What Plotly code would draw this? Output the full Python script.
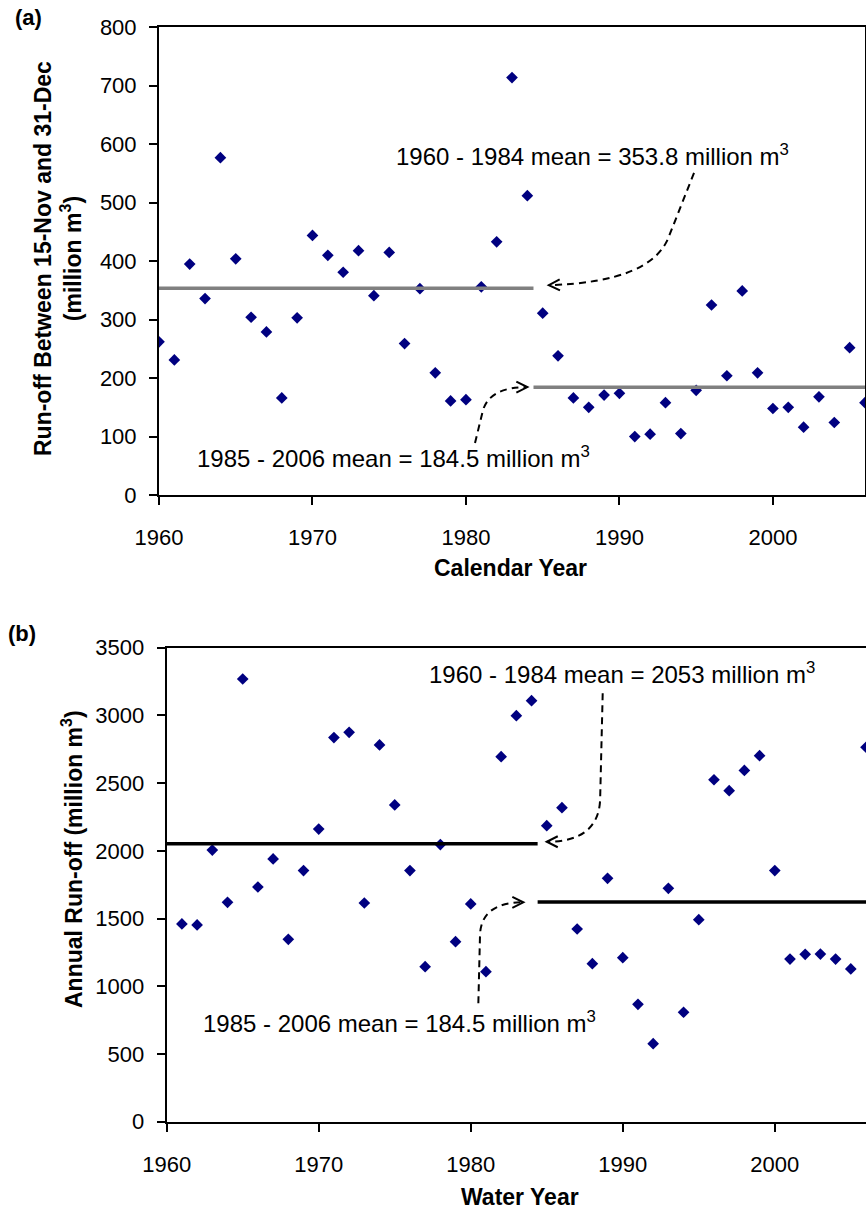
import plotly.graph_objects as go

# ---------------- data ----------------
# (a) run-off between 15-Nov and 31-Dec, by calendar year (million m3)
years_a = list(range(1960, 2007))
runoff_a = [262, 231, 395, 336, 577, 404, 304, 279, 166, 303,
            444, 410, 381, 418, 341, 415, 259, 353, 209, 161,
            163, 356, 433, 714, 512, 311, 238, 166, 150, 171,
            174, 100, 104, 158, 105, 179, 325, 204, 349, 209,
            148, 150, 116, 168, 124, 252, 158]

# (b) annual run-off, by water year (million m3)
years_b = list(range(1961, 2007))
runoff_b = [1460, 1453, 2006, 1620, 3269, 1733, 1940, 1347, 1854, 2161,
            2836, 2875, 1615, 2782, 2339, 1854, 1145, 2046, 1329, 1608,
            1108, 2695, 2998, 3109, 2186, 2319, 1423, 1167, 1797, 1211,
            867, 576, 1723, 808, 1492, 2525, 2444, 2594, 2703, 1854,
            1201, 1236, 1238, 1201, 1128, 2765]

# period means
mean_a_early, mean_a_late = 353.8, 184.5
mean_b_early, mean_b_late = 2053, 1622
split_year = 1984.4

x_ticks = [1960, 1970, 1980, 1990, 2000]

# ---------------- layout geometry ----------------
W, H = 866, 1211
FONT = "Liberation Sans, Arial, sans-serif"

panels = {
    "a": dict(x0=159.0, x1=865.0, ytop=27.3, ybot=495.0, xr=(1960, 2006), yr=(0, 800)),
    "b": dict(x0=166.7, x1=866.0, ytop=647.7, ybot=1121.7, xr=(1960, 2006), yr=(0, 3500)),
}


def to_paper(p, xv, yv):
    g = panels[p]
    px = g["x0"] + (xv - g["xr"][0]) / (g["xr"][1] - g["xr"][0]) * (g["x1"] - g["x0"])
    py = g["ybot"] - (yv - g["yr"][0]) / (g["yr"][1] - g["yr"][0]) * (g["ybot"] - g["ytop"])
    return px, py


def pp(px, py):
    return px / W, 1 - py / H


def dashed_callout(p, start, bend, ctrl, tip):
    """Dashed curved leader ending in an open arrowhead (data coordinates)."""
    pts = [to_paper(p, *q) for q in (start, bend, ctrl, tip)]
    (sx, sy), (bx, by), (cx, cy), (tx, ty) = [pp(*q) for q in pts]
    shapes = [dict(type="path", xref="paper", yref="paper",
                   path=f"M{sx},{sy} L{bx},{by} Q{cx},{cy} {tx},{ty}",
                   line=dict(color="black", width=2, dash="7px,5px"))]
    # arrowhead direction from control point to tip (pixel space)
    (cpx, cpy), (tpx, tpy) = pts[2], pts[3]
    dx, dy = tpx - cpx, tpy - cpy
    n = (dx * dx + dy * dy) ** 0.5
    ux, uy = dx / n, dy / n
    L, Wd = 11, 5.5
    a1 = (tpx - ux * L - uy * Wd, tpy - uy * L + ux * Wd)
    a2 = (tpx - ux * L + uy * Wd, tpy - uy * L - ux * Wd)
    (x1, y1), (x2, y2), (x3, y3) = pp(*a1), pp(tpx, tpy), pp(*a2)
    shapes.append(dict(type="path", xref="paper", yref="paper",
                       path=f"M{x1},{y1} L{x2},{y2} L{x3},{y3}",
                       line=dict(color="black", width=2)))
    return shapes


fig = go.Figure()

marker = dict(symbol="diamond", size=9, color="#000080", line=dict(width=0))

fig.add_trace(go.Scatter(x=years_a, y=runoff_a, mode="markers", marker=marker,
                         xaxis="x", yaxis="y", showlegend=False))
fig.add_trace(go.Scatter(x=years_b, y=runoff_b, mode="markers", marker=marker,
                         xaxis="x2", yaxis="y2", showlegend=False))

# mean lines
fig.add_trace(go.Scatter(x=[1960, split_year], y=[mean_a_early] * 2, mode="lines",
                         line=dict(color="#808080", width=3.5), xaxis="x", yaxis="y",
                         showlegend=False))
fig.add_trace(go.Scatter(x=[split_year, 2006], y=[mean_a_late] * 2, mode="lines",
                         line=dict(color="#808080", width=3.5), xaxis="x", yaxis="y",
                         showlegend=False))
fig.add_trace(go.Scatter(x=[1960, split_year], y=[mean_b_early] * 2, mode="lines",
                         line=dict(color="black", width=3.5), xaxis="x2", yaxis="y2",
                         showlegend=False))
fig.add_trace(go.Scatter(x=[split_year, 2006], y=[mean_b_late] * 2, mode="lines",
                         line=dict(color="black", width=3.5), xaxis="x2", yaxis="y2",
                         showlegend=False))

axis_common = dict(showgrid=False, zeroline=False, showline=True, linecolor="black",
                   linewidth=2, ticks="outside", ticklen=8, tickwidth=2, tickcolor="black",
                   automargin=False,
                   tickfont=dict(family=FONT, size=22, color="black"))

ga, gb = panels["a"], panels["b"]
fig.update_layout(
    width=W, height=H, margin=dict(l=0, r=0, t=0, b=0),
    paper_bgcolor="white", plot_bgcolor="white",
    xaxis=dict(axis_common, domain=[ga["x0"] / W, ga["x1"] / W], range=list(ga["xr"]),
               tickvals=x_ticks, mirror=True, anchor="y", ticklabelstandoff=14),
    yaxis=dict(axis_common, domain=[1 - ga["ybot"] / H, 1 - ga["ytop"] / H],
               range=list(ga["yr"]), dtick=100, mirror=True, anchor="x",
               ticklabelstandoff=8),
    xaxis2=dict(axis_common, domain=[gb["x0"] / W, gb["x1"] / W], range=list(gb["xr"]),
                tickvals=x_ticks, mirror=True, anchor="y2", ticklabelstandoff=14),
    yaxis2=dict(axis_common, domain=[1 - gb["ybot"] / H, 1 - gb["ytop"] / H],
                range=list(gb["yr"]), dtick=500, mirror=False, anchor="x2",
                ticklabelstandoff=8),
)

shapes = []
shapes += dashed_callout("a", (1994.86, 551), (1993.23, 442.7), (1992.12, 364), (1985.4, 359))
shapes += dashed_callout("a", (1980.59, 88.9), (1981.11, 145.3), (1981.57, 184.6), (1984.0, 184.6))
shapes += dashed_callout("b", (1988.68, 3163), (1988.51, 2375), (1988.38, 2067), (1985.0, 2067))
shapes += dashed_callout("b", (1980.5, 874), (1980.61, 1379), (1980.68, 1620), (1983.46, 1620))
fig.update_layout(shapes=shapes)

ann_font = dict(family=FONT, size=24, color="black")
bold_font = dict(family=FONT, size=23, color="black")


def note(p, xv, yv, text):
    x, y = pp(*to_paper(p, xv, yv))
    return dict(x=x, y=y, xref="paper", yref="paper", text=text, showarrow=False,
                xanchor="left", yanchor="middle", font=ann_font, borderpad=0)


def label(px, py, text, angle=0, size=23):
    x, y = pp(px, py)
    return dict(x=x, y=y, xref="paper", yref="paper", text=f"<b>{text}</b>",
                showarrow=False, xanchor="center", yanchor="middle", textangle=angle,
                font=dict(bold_font, size=size), borderpad=0)


annotations = [
    note("a", 1975.38, 581, "1960 - 1984 mean = 353.8 million m<sup>3</sup>"),
    note("a", 1962.41, 65.5, "1985 - 2006 mean = 184.5 million m<sup>3</sup>"),
    note("b", 1977.21, 3313, "1960 - 1984 mean = 2053 million m<sup>3</sup>"),
    note("b", 1962.3, 738, "1985 - 2006 mean = 184.5 million m<sup>3</sup>"),
    label(28, 18, "(a)", size=22),
    label(22, 634, "(b)", size=22),
    label(58, 259, "Run-off Between 15-Nov and 31-Dec<br>(million m<sup>3</sup>)", angle=-90),
    label(72, 859, "Annual Run-off (million m<sup>3</sup>)", angle=-90),
    label(510, 568, "Calendar Year"),
    label(520, 1197, "Water Year"),
]
fig.update_layout(annotations=annotations)

fig.write_html("out.html")
